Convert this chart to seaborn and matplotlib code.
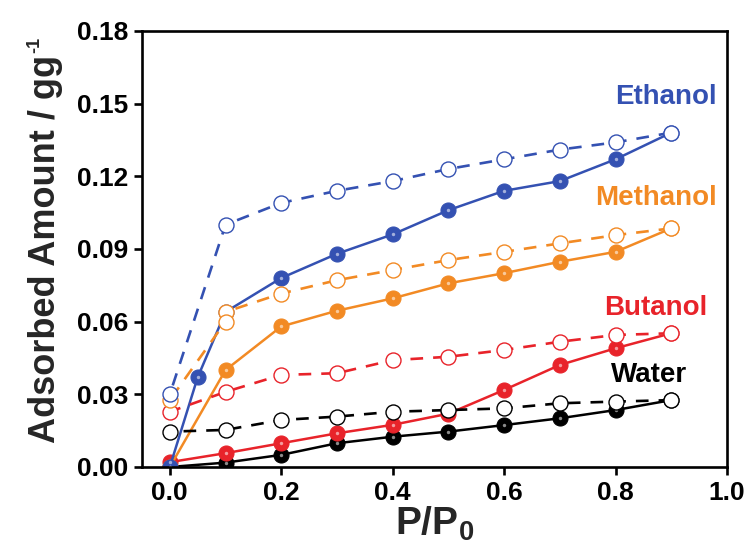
import numpy as np
import pandas as pd
import matplotlib
matplotlib.use("Agg")
import matplotlib.pyplot as plt
import seaborn as sns

# Relative pressure grids
p_ads = [0.0, 0.1, 0.2, 0.3, 0.4, 0.5, 0.6, 0.7, 0.8, 0.9]
p_ads_ethanol = [0.0, 0.05, 0.1, 0.2, 0.3, 0.4, 0.5, 0.6, 0.7, 0.8, 0.9]
p_des = [0.9, 0.8, 0.7, 0.6, 0.5, 0.4, 0.3, 0.2, 0.1, 0.0]
p_des_methanol = [0.9, 0.8, 0.7, 0.6, 0.5, 0.4, 0.3, 0.2, 0.1, 0.1, 0.0]

# Adsorption branches (g/g)
ethanol_ads = [0.0, 0.037, 0.064, 0.078, 0.088, 0.096, 0.106, 0.114, 0.118, 0.127, 0.138]
methanol_ads = [0.0, 0.040, 0.058, 0.0645, 0.0696, 0.0758, 0.080, 0.0847, 0.0888, 0.0985]
butanol_ads = [0.002, 0.0057, 0.0098, 0.0139, 0.0174, 0.022, 0.0318, 0.0421, 0.049, 0.0552]
water_ads = [0.0, 0.0018, 0.005, 0.0098, 0.0125, 0.0146, 0.0173, 0.0201, 0.0235, 0.0276]

# Desorption branches (g/g)
ethanol_des = [0.138, 0.134, 0.131, 0.127, 0.123, 0.118, 0.114, 0.109, 0.100, 0.030]
methanol_des = [0.0985, 0.0957, 0.0923, 0.0888, 0.0854, 0.0813, 0.0771, 0.0716, 0.064, 0.060, 0.0276]
butanol_des = [0.0552, 0.0545, 0.0517, 0.0483, 0.0455, 0.0441, 0.0387, 0.038, 0.031, 0.0228]
water_des = [0.0276, 0.027, 0.0263, 0.0242, 0.0235, 0.0228, 0.0208, 0.0194, 0.0153, 0.0146]

names = ["Ethanol", "Methanol", "Butanol", "Water"]
colors = {"Ethanol": "#3451b2", "Methanol": "#f28a24", "Butanol": "#e8232a", "Water": "#000000"}
label_pos = {"Ethanol": (0.982, 0.1526), "Methanol": (0.982, 0.111),
             "Butanol": (0.964, 0.0656), "Water": (0.928, 0.038)}

series = {
    "Ethanol": (p_ads_ethanol, ethanol_ads, p_des, ethanol_des),
    "Methanol": (p_ads, methanol_ads, p_des_methanol, methanol_des),
    "Butanol": (p_ads, butanol_ads, p_des, butanol_des),
    "Water": (p_ads, water_ads, p_des, water_des),
}

sns.set_theme(style="ticks")
plt.rcParams["font.family"] = ["Liberation Sans", "DejaVu Sans"]
plt.rcParams["font.weight"] = "bold"
plt.rcParams["mathtext.fontset"] = "custom"
plt.rcParams["mathtext.rm"] = "Liberation Sans:bold"
plt.rcParams["mathtext.bf"] = "Liberation Sans:bold"
plt.rcParams["mathtext.it"] = "Liberation Sans:bold"

fig = plt.figure(figsize=(7.51, 5.52), dpi=100)
ax = fig.add_axes([0.189, 0.154, 0.779, 0.790])

for name in ["Water", "Butanol", "Methanol", "Ethanol"]:
    xa, ya, xd, yd = series[name]
    c = colors[name]
    ads = pd.DataFrame({"p": xa, "q": ya})
    des = pd.DataFrame({"p": xd, "q": yd})
    # adsorption: solid line, filled markers
    sns.lineplot(data=ads, x="p", y="q", ax=ax, sort=False, estimator=None,
                 color=c, linewidth=1.8, marker="o", markersize=10.8,
                 markerfacecolor=c, markeredgecolor=c, markeredgewidth=0.8,
                 zorder=2)
    # small highlight on the filled markers
    sns.scatterplot(data=ads, x="p", y="q", ax=ax, color="white", s=6,
                    alpha=0.55, linewidth=0, zorder=2.5)
    # desorption: dashed line, open markers
    sns.lineplot(data=des, x="p", y="q", ax=ax, sort=False, estimator=None,
                 color=c, linewidth=1.9, linestyle=(0, (4.8, 3.8)),
                 marker="o", markersize=10.8, markerfacecolor="white",
                 markeredgecolor=c, markeredgewidth=1.0, zorder=3)
    lx, ly = label_pos[name]
    ax.text(lx, ly, name, color=c, fontsize=20, fontweight="bold",
            ha="right", va="center", zorder=4)

ax.set_xlim(-0.05, 1.0)
ax.set_ylim(0.0, 0.18)
ax.set_xticks([0.0, 0.2, 0.4, 0.6, 0.8, 1.0])
ax.set_yticks([0.0, 0.03, 0.06, 0.09, 0.12, 0.15, 0.18])
ax.set_xticklabels(["0.0", "0.2", "0.4", "0.6", "0.8", "1.0"])
ax.set_yticklabels(["0.00", "0.03", "0.06", "0.09", "0.12", "0.15", "0.18"])

for s in ax.spines.values():
    s.set_visible(True)
    s.set_linewidth(1.9)
    s.set_color("black")
ax.tick_params(axis="both", which="major", direction="out", length=6, width=1.9,
               labelsize=19, pad=4, colors="black", top=False, right=False)
for lab in ax.get_xticklabels() + ax.get_yticklabels():
    lab.set_fontweight("bold")

ax.set_xlabel(r"P/P$_{\mathbf{0}}$", fontsize=28, fontweight="bold", labelpad=0)
ylab = ax.set_ylabel("Adsorbed Amount / gg", fontsize=26, fontweight="bold",
                     labelpad=10)
ax.grid(False)

# small "-1" exponent on the unit, placed at the end of the rotated label
fig.canvas.draw()
bb = ylab.get_window_extent(renderer=fig.canvas.get_renderer())
inv = fig.transFigure.inverted()
x0, y1 = inv.transform((bb.x0, bb.y1))
fig.text(x0 - 0.002, y1 + 0.004, "-1", rotation=90, fontsize=13,
         fontweight="bold", ha="left", va="bottom")

fig.savefig("out.png", dpi=100)
